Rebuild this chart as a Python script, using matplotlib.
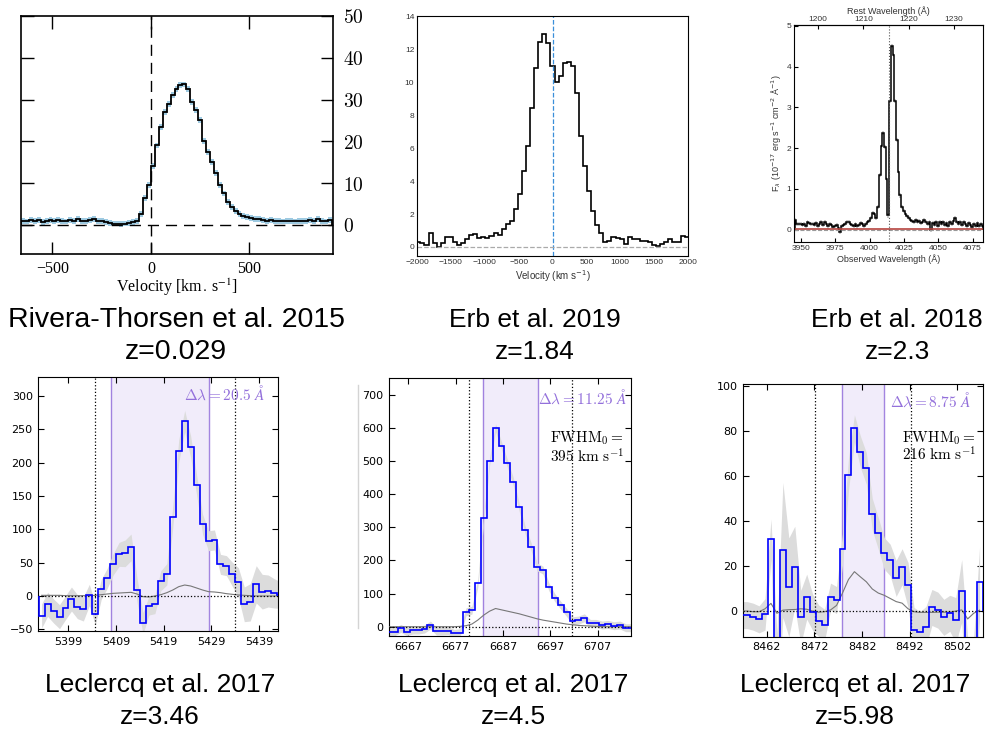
import numpy as np
import matplotlib
matplotlib.use("Agg")
import matplotlib.pyplot as plt
from matplotlib.ticker import FuncFormatter
from matplotlib.lines import Line2D

plt.rcParams['mathtext.fontset'] = 'cm'

# ---- Rivera-Thorsen et al. 2015 (z=0.029), 20 km/s bins
rt_edges = np.arange(-660, 940, 20)
rt_flux = [1.0, 0.8, 1.1, 0.9, 1.2, 0.7, 1.0, 1.1, 0.9, 1.2, 1.0, 0.8, 1.1, 1.0,
           1.3, 0.9, 1.0, 1.1, 1.4, 1.0, 0.9,
           0.6, 0.4, 0.3, 0.3, 0.2, 0.3, 0.4, 0.6,
           1.0, 2.5, 6.5, 9.5, 14.0, 19.0, 23.5, 27.0, 29.0, 31.0, 32.5, 33.4,
           33.6, 32.5, 29.5, 27.5, 25.0, 20.0, 17.5, 15.0, 12.5, 9.5, 7.5, 5.5,
           4.2, 3.2, 2.6, 2.2, 1.9, 1.6, 1.4, 1.3, 1.1, 1.0, 1.1, 0.9, 1.0, 0.8,
           0.9, 1.0, 0.8, 0.9, 1.0, 0.9, 1.1, 1.0, 1.3, 1.0, 0.8, 1.1]
rt_err = 0.7

# ---- Erb et al. 2019 (z=1.84), bin centres in km/s
erb19_vel = np.arange(-1980, 1981, 60)
erb19_flux = [0.32, 0.22, 0.12, 0.83, 0.26, 0.02, 0.22, 0.59, 0.59, 0.32,
              0.12, 0.26, 0.47, 0.71, 0.79, 0.53, 0.63, 0.55, 0.67, 0.83,
              0.73, 1.07, 1.40, 1.60, 2.29, 3.22, 4.64, 6.14, 8.43, 10.86,
              12.48, 12.93, 12.42, 11.0, 10.05, 10.4, 11.2, 11.26, 11.0, 9.34,
              6.75, 4.92, 3.40, 2.21, 1.32, 0.83, 0.32, 0.38, 0.59, 0.55,
              0.47, 0.18, 0.59, 0.47, 0.47, 0.38, 0.34, 0.32, 0.12, 0.06,
              0.18, 0.32, 0.47, 0.32, 0.28, 0.69, 0.62]

# ---- Erb et al. 2018 (z=2.3), observed wavelength bin centres
erb18_z = 2.302
erb18_wave = 3946.0 + 1.25 * np.arange(110)
erb18_flux = [0.24, 0.14, 0.13, 0.15, 0.12, 0.14, 0.10, 0.20, 0.16, 0.14,
              0.15, 0.12, 0.16, 0.10, 0.13, 0.18, 0.12, 0.20, 0.15, 0.08,
              0.14, 0.12, 0.06, 0.10, 0.12, 0.04, -0.05, 0.08, 0.12, 0.15,
              0.20, 0.18, 0.14, 0.12, 0.10, 0.14, 0.08, 0.12, 0.16, 0.14,
              0.10, 0.14, 0.20, 0.22,
              0.28, 0.40, 0.38, 0.30, 0.55, 1.35, 2.06, 2.37, 2.02, 1.25,
              0.35, 3.16, 4.51, 4.28, 3.16, 2.19, 1.41, 0.84, 0.55, 0.45,
              0.38, 0.33, 0.28, 0.25,
              0.22, 0.20, 0.24, 0.18, 0.22, 0.16, 0.20, 0.25, 0.18, 0.14,
              0.20, 0.00, 0.16, 0.12, 0.18, 0.10, 0.20, 0.14, 0.18, 0.12,
              0.16, 0.10, 0.20, 0.14, 0.22, 0.28, 0.18, 0.15, 0.20, 0.12,
              0.18, 0.14, 0.08, 0.16, 0.12, 0.06, 0.14, 0.10, 0.16, 0.08,
              0.14, 0.10]
erb18_cont = 0.03
lya_rest = 1215.67

# ---- Leclercq et al. 2017, z=3.46
lec1_wave = 5423.4 + 1.25 * np.arange(-24, 17)
lec1_flux = [-30, -12.5, -22.5, -31, -17.5, -4.5, -16, -19.5, 1.5, -27.5,
             10, 26.5, 47.5, 62.5, 64, 73, 9, -41, -14.5, -12.5,
             23, 32.5, 119, 217.5, 262.5, 224, 166.5, 107.5, 83, 84,
             47.5, 45.5, 32.5, 20.5, -12.5, -9.5, 17.5, 6.5, 7.5, 4, 1.5]
lec1_err = [18, 18, 18, 18, 18, 18, 18, 18, 16, 16, 15, 15, 16, 18, 20, 20,
            18, 16, 14, 14, 15, 16, 16, 17, 16, 16, 15, 15, 15, 15, 15, 15,
            18, 22, 26, 28, 28, 26, 24, 22, 20]
lec1_model = [1, 1, 1, 1, 0.5, 0.5, 0.5, 0.5, 0.5, 1, 2, 3, 4, 4.5, 5, 5.5,
              3, -1, -1.5, 0, 2, 5, 9, 14, 16.5, 15, 12, 9, 6.5, 6, 5, 3.5,
              2.5, 1.5, 1, 0.5, 0, 0, 0, 0, 0]
lec1_window = (5407.85, 5428.45)
lec1_dotted = (5404.6, 5434.05)

# ---- Leclercq et al. 2017, z=4.5
lec2_wave = 6685.4 + 1.25 * np.arange(-18, 24)
lec2_flux = [-15, -15, -5, -15, -10, -10, -7, 5, -13, -13, -12, -20, -18,
             45, 50, 131, 327, 500, 601, 547, 493, 438, 360, 292, 242, 181,
             171, 121, 88, 65, 43, 18, 20, 27, 10, 10, 5, 7, 3, 5, -3, -3]
lec2_err = 12
lec2_model = [0, 0, 0, 0, 0, 0, 0, 0, 0, 0, 0, 0, 1, 3, 8, 20, 35, 47, 55,
              51, 47, 43, 39, 34, 29, 24, 20, 17, 14, 11, 8, 6, 4, 3, 2, 1,
              0.5, 0, 0, 0, 0, 0]
lec2_window = (6682.85, 6694.35)
lec2_dotted = (6679.7, 6701.5)

# ---- Leclercq et al. 2017, z=5.98
lec3_wave = 8480.4 + 1.25 * np.arange(-19, 22)
lec3_flux = [-1.8, -1.8, -2.5, -3.7, -1.5, 31.9, -30, 27.1, 10.5, 19.7,
             -2.8, 6.4, -0.6, -4.3, -6.2, 6.4, 4.9, 27.4, 60.6, 81.2,
             70.8, 63.4, 43, 34.5, 25.6, 22.7, 14.5, 19.7, 11.6, -8.4,
             -9.2, -7, 1.6, 0.4, -2.8, -1, -4, 8.9, -30, -30, 12.7]
lec3_err = [6, 6, 6, 6, 7, 9, 20, 30, 22, 18, 12, 10, 8, 7, 7, 6, 6, 7, 7,
            6, 7, 7, 7, 7, 7, 7, 8, 8, 10, 10, 9, 9, 8, 8, 8, 8, 10, 14, 18,
            18, 16]
lec3_model = [0, 0, -0.3, -0.3, 1, 3.4, -1, 0.4, 0.6, 0.7, 1, 0.8, 0, -0.5,
              -0.3, 0.5, 2.5, 8, 14, 17.5, 15.2, 13, 9.8, 8, 7, 5.6, 4.2,
              3.5, 1, -0.3, -0.6, -0.6, -0.6, -0.5, -0.5, -0.5, 0, 0.5,
              -3.5, -1, 0.4]
lec3_window = (8477.7, 8486.6)
lec3_dotted = (8472.15, 8492.25)

captions = [("Rivera-Thorsen et al. 2015", "z=0.029", 176, 320, 20.5),
            ("Erb et al. 2019", "z=1.84", 535, 320, 19),
            ("Erb et al. 2018", "z=2.3", 897, 320, 19),
            ("Leclercq et al. 2017", "z=3.46", 160, 685, 19),
            ("Leclercq et al. 2017", "z=4.5", 513, 685, 19),
            ("Leclercq et al. 2017", "z=5.98", 855, 685, 19)]

W, H = 990, 733
fig = plt.figure(figsize=(W / 100, H / 100), dpi=100)


def add_px_axes(left, top, right, bottom):
    return fig.add_axes([left / W, 1 - bottom / H, (right - left) / W, (bottom - top) / H])


def edges_from_centers(c):
    c = np.asarray(c, float)
    d = c[1] - c[0]
    return np.append(c - d / 2, c[-1] + d / 2)


# ---------------- panel 1
ax1 = add_px_axes(21, 16, 333, 254)
f = np.array(rt_flux)
ax1.stairs(f + rt_err, rt_edges, baseline=f - rt_err, fill=True, color='#9ecae1', lw=0)
ax1.stairs(f, rt_edges, color='k', lw=1.3)
ax1.axvline(0, color='k', ls=(0, (8, 5)), lw=1)
ax1.axhline(0, color='k', ls=(0, (8, 5)), lw=1)
ax1.set_xlim(-660, 925)
ax1.set_ylim(-7, 50)
ax1.set_xticks([-500, 0, 500])
ax1.set_yticks(range(0, 51, 10))
ax1.tick_params(direction='in', top=True, right=True, length=9, width=1,
                labelleft=False, labelright=True)
ax1.tick_params(axis='y', labelsize=14, pad=7)
ax1.tick_params(axis='x', labelsize=11.5, labelfontfamily='Liberation Serif', pad=5)
ax1.yaxis.set_major_formatter(FuncFormatter(lambda v, p: f'${v:.0f}$'))
ax1.set_xlabel(r'Velocity [km$\,.\,$s$^{-1}$]', fontsize=11.5, family='Liberation Serif',
               math_fontfamily='stix', labelpad=0)
for s in ax1.spines.values():
    s.set_linewidth(1.2)

# ---------------- panel 2
ax2 = add_px_axes(417, 16, 688, 256)
ax2.stairs(erb19_flux, edges_from_centers(erb19_vel), color='k', lw=1.2)
ax2.axvline(0, color='#3a8fd9', ls='--', lw=0.9)
ax2.axhline(0, color='#aaaaaa', ls='--', lw=0.9)
ax2.set_xlim(-2000, 2000)
ax2.set_ylim(-0.55, 14.05)
ax2.set_xticks(range(-2000, 2001, 500))
ax2.set_yticks(range(0, 15, 2))
ax2.tick_params(length=0, labelsize=6, pad=2, labelcolor='#333333',
                labelfontfamily='Liberation Sans')
ax2.set_xlabel(r'Velocity (km s$^{-1}$)', fontsize=7, color='#333333',
               family='Liberation Sans', math_fontfamily='dejavusans', labelpad=2)
for s in ax2.spines.values():
    s.set_linewidth(0.8)

# ---------------- panel 3
ax3 = add_px_axes(794.3, 25, 982.7, 242)
f = np.array(erb18_flux)
e = edges_from_centers(erb18_wave)
ax3.stairs(f + 0.05, e, baseline=f - 0.05, fill=True, color='#c8c8c8', lw=0)
ax3.stairs(f, e, color='k', lw=1.1)
ax3.axhline(0, color='#999999', ls='--', lw=0.8)
ax3.axhline(erb18_cont, color='#b5443f', lw=1.2)
ax3.axvline(lya_rest * (1 + erb18_z), color='#555555', ls=':', lw=0.8)
ax3.set_xlim(3945.1, 4082.3)
ax3.set_ylim(-0.3, 5.02)
ax3.set_xticks(range(3950, 4076, 25))
ax3.set_yticks(range(6))
ax3.tick_params(direction='in', length=3, labelsize=6, pad=2, labelcolor='#333333',
                labelfontfamily='Liberation Sans')
sec = ax3.secondary_xaxis('top', functions=(lambda x: x / (1 + erb18_z),
                                            lambda x: x * (1 + erb18_z)))
sec.set_xticks([1200, 1210, 1220, 1230])
sec.tick_params(direction='in', length=3, labelsize=6, pad=1.5, labelcolor='#333333',
                labelfontfamily='Liberation Sans')
sec.set_xlabel('Rest Wavelength (Å)', fontsize=6.5, color='#333333',
               family='Liberation Sans', labelpad=1.5)
ax3.set_xlabel('Observed Wavelength (Å)', fontsize=6.5, color='#333333',
               family='Liberation Sans', labelpad=2)
ax3.set_ylabel(r'F$_\lambda$ (10$^{-17}$ erg s$^{-1}$ cm$^{-2}$ Å$^{-1}$)', fontsize=6.5,
               color='#333333', family='Liberation Sans', math_fontfamily='dejavusans',
               labelpad=2)
for s in ax3.spines.values():
    s.set_linewidth(0.8)

# ---------------- Leclercq panels
purple = '#9370db'


def leclercq(ax, wave, flux, err, model, window, dotted, xlim, ylim, xticks, yticks,
             dl_text, dl_pos, fwhm_text=None, fwhm_pos=None):
    wave = np.asarray(wave, float)
    flux = np.asarray(flux, float)
    err = np.asarray(err, float)
    ax.axvspan(*window, color=purple, alpha=0.13, lw=0, zorder=0)
    for x in window:
        ax.axvline(x, color=purple, lw=1, alpha=0.85, zorder=1)
    ax.fill_between(wave, flux - err, flux + err, color='#dcdcdc', lw=0, zorder=2)
    ax.plot(wave, model, color='#777777', lw=0.8, zorder=3)
    ax.axhline(0, color='k', ls=':', lw=0.9, zorder=3)
    for x in dotted:
        ax.axvline(x, color='k', ls=':', lw=0.9, zorder=3)
    ax.stairs(flux, edges_from_centers(wave), color='#0000ff', lw=1.2, zorder=4)
    ax.set_xlim(*xlim)
    ax.set_ylim(*ylim)
    ax.set_xticks(xticks)
    ax.set_yticks(yticks)
    ax.tick_params(direction='in', top=True, right=True, length=4, width=0.8,
                   labelsize=8, pad=4)
    ax.text(dl_pos[0], dl_pos[1], dl_text, transform=ax.transAxes, ha='right',
            va='center', color=purple, fontsize=11, zorder=5)
    if fwhm_text:
        ax.text(fwhm_pos[0], fwhm_pos[1], fwhm_text[0], transform=ax.transAxes,
                ha='left', va='center', fontsize=11, zorder=5)
        ax.text(fwhm_pos[0], fwhm_pos[2], fwhm_text[1], transform=ax.transAxes,
                ha='left', va='center', fontsize=11, zorder=5)


ax4 = add_px_axes(38.3, 376.7, 277.7, 631)
leclercq(ax4, lec1_wave, lec1_flux, lec1_err, lec1_model, lec1_window, lec1_dotted,
         (5392.7, 5442.9), (-52.5, 329), range(5399, 5440, 10), range(-50, 301, 50),
         r'$\Delta\lambda = 20.5\ \AA$', (0.947, 0.935))

ax5 = add_px_axes(389, 378.3, 631, 636)
leclercq(ax5, lec2_wave, lec2_flux, np.full(len(lec2_flux), lec2_err), lec2_model,
         lec2_window, lec2_dotted, (6662.9, 6714.0), (-28, 750), range(6667, 6708, 10),
         range(0, 701, 100), r'$\Delta\lambda = 11.25\ \AA$', (0.982, 0.925),
         (r'$\mathrm{FWHM}_0 =$', r'$395\ \mathrm{km\ s^{-1}}$'), (0.665, 0.767, 0.696))

ax6 = add_px_axes(743.3, 384, 982.7, 636.7)
leclercq(ax6, lec3_wave, lec3_flux, lec3_err, lec3_model, lec3_window, lec3_dotted,
         (8457.1, 8507.3), (-11.4, 100.9), range(8462, 8503, 10), range(0, 101, 20),
         r'$\Delta\lambda = 8.75\ \AA$', (0.952, 0.935),
         (r'$\mathrm{FWHM}_0 =$', r'$216\ \mathrm{km\ s^{-1}}$'), (0.662, 0.785, 0.719))

# faint edge of the cropped middle-bottom image
fig.add_artist(Line2D([358 / W, 358 / W], [1 - 628 / H, 1 - 385 / H], color='#d4d4d4',
                      lw=1, transform=fig.transFigure))

for title, z, x, y, size in captions:
    fig.text(x / W, 1 - y / H, title, ha='center', va='center', fontsize=size,
             family='Liberation Sans')
    fig.text(x / W, 1 - (y + 32) / H, z, ha='center', va='center', fontsize=size,
             family='Liberation Sans')

fig.savefig('out.png', dpi=100)
